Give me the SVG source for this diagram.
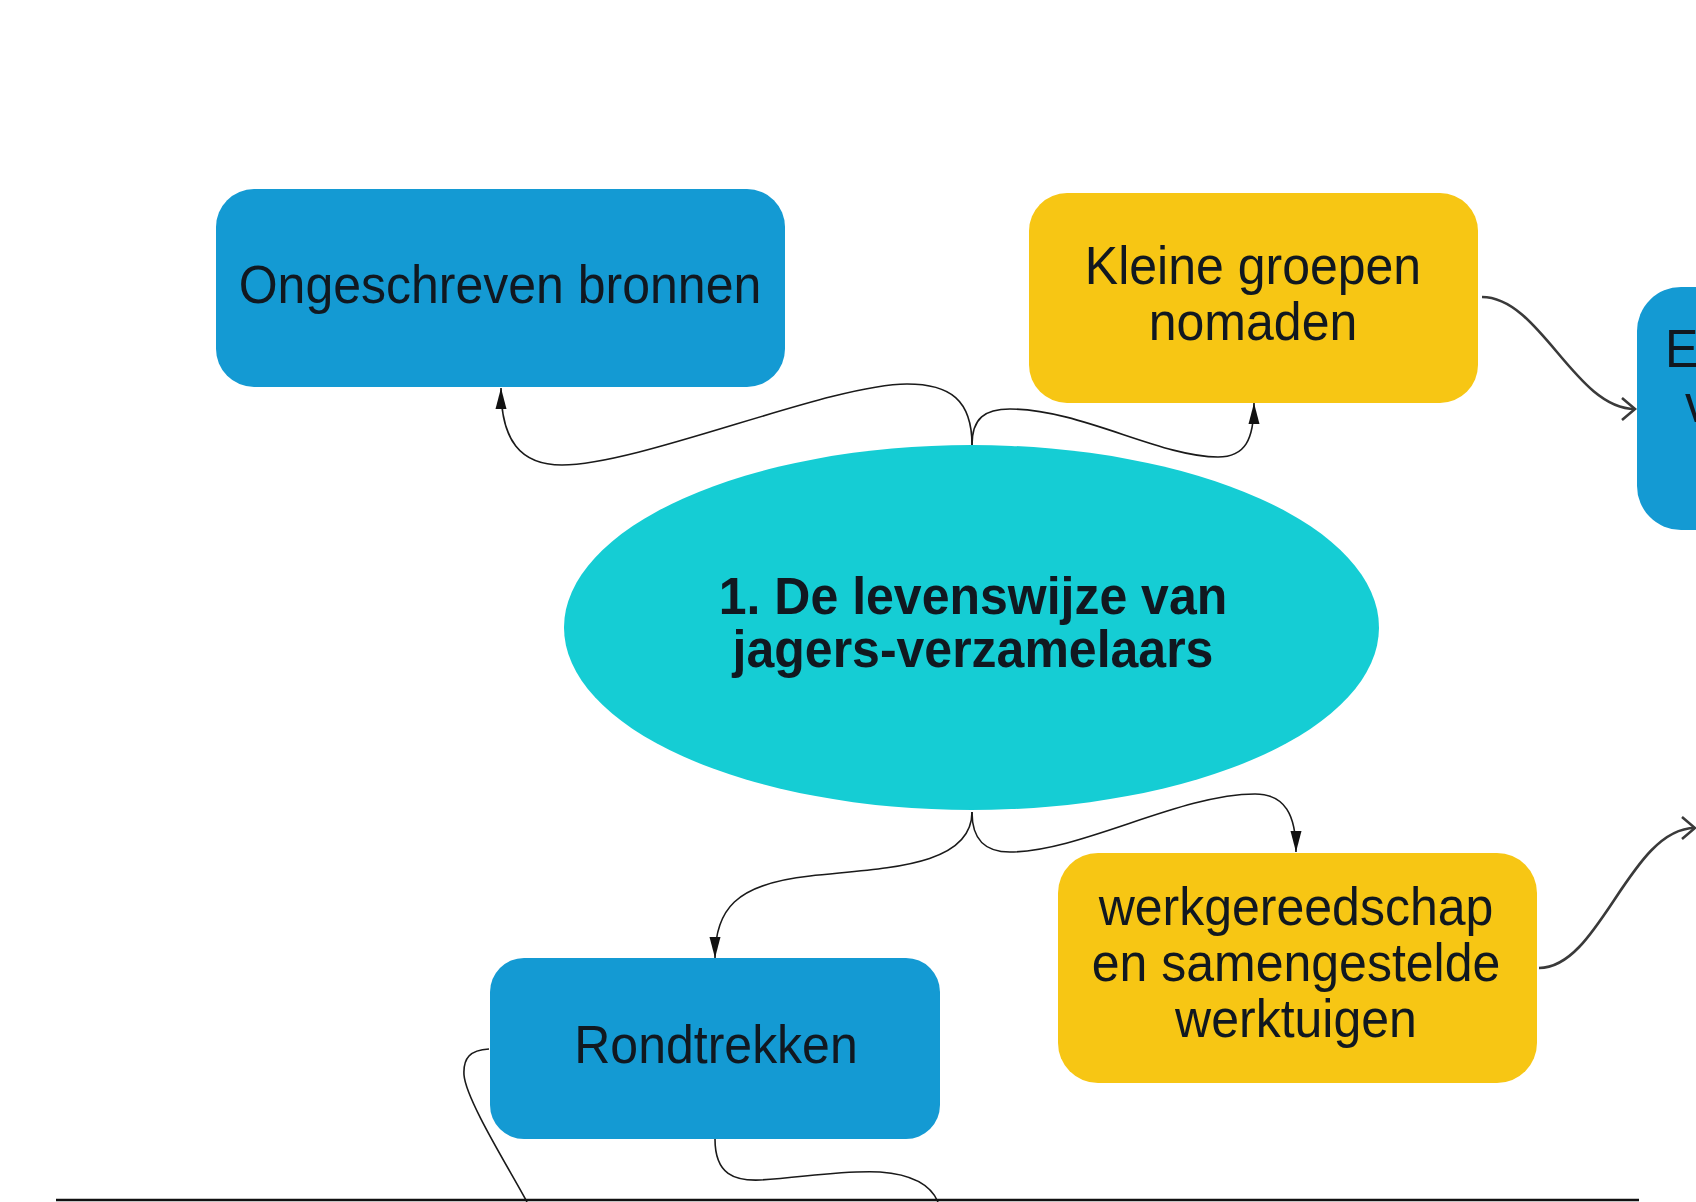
<svg xmlns="http://www.w3.org/2000/svg" width="1696" height="1202" viewBox="0 0 1696 1202">
<style>
.blue{fill:#149AD3}
.yellow{fill:#F7C614}
.cyan{fill:#15CDD4}
.t{font-family:"Liberation Sans",Arial,sans-serif;font-size:50px;fill:#111820;text-anchor:middle}
.b{font-weight:bold}
.c{fill:none;stroke:#1a1a1a;stroke-width:1.6}
.c2{fill:none;stroke:#3a3a3a;stroke-width:2.6}
</style>
<defs>
<marker id="ah" markerUnits="userSpaceOnUse" markerWidth="22" markerHeight="12" refX="21" refY="6" orient="auto">
<path d="M0,0.5 L21,6 L0,11.5 Z" fill="#111"/>
</marker>
<marker id="ch" markerUnits="userSpaceOnUse" markerWidth="18" markerHeight="26" refX="14" refY="12" orient="auto">
<path d="M1,1 L14,12 L1,23" fill="none" stroke="#3a3a3a" stroke-width="2.6"/>
</marker>
</defs>
<rect width="1696" height="1202" fill="#ffffff"/>
<g id="node-e">
<rect class="blue" x="1637" y="287" width="120" height="243" rx="44" ry="44"/>
<text class="t" transform="translate(1665,367) scale(1,1.06)" style="text-anchor:start">E</text>
<text class="t" transform="translate(1685,422) scale(1,1.06)" style="text-anchor:start">v</text>
</g>
<g id="node-ongeschreven">
<rect class="blue" x="216" y="189" width="569" height="198" rx="38" ry="38"/>
<text class="t" transform="translate(500,303) scale(1,1.06)">Ongeschreven bronnen</text>
</g>
<g id="node-kleine">
<rect class="yellow" x="1029" y="193" width="449" height="210" rx="38" ry="38"/>
<text class="t" transform="translate(1253,284) scale(1,1.06)">Kleine groepen</text>
<text class="t" transform="translate(1253,340) scale(1,1.06)">nomaden</text>
</g>
<g id="node-center">
<ellipse class="cyan" cx="971.5" cy="627.5" rx="407.5" ry="182.5"/>
<text class="t b" transform="translate(973,614) scale(1,1.04)">1. De levenswijze van</text>
<text class="t b" transform="translate(973,667) scale(1,1.04)">jagers-verzamelaars</text>
</g>
<g id="node-werk">
<rect class="yellow" x="1058" y="853" width="479" height="230" rx="40" ry="40"/>
<text class="t" transform="translate(1296,925) scale(1,1.06)">werkgereedschap</text>
<text class="t" transform="translate(1296,981) scale(1,1.06)">en samengestelde</text>
<text class="t" transform="translate(1296,1037) scale(1,1.06)">werktuigen</text>
</g>
<g id="node-rondtrekken">
<rect class="blue" x="490" y="958" width="450" height="181" rx="34" ry="34"/>
<text class="t" transform="translate(716,1063) scale(1,1.06)">Rondtrekken</text>
</g>
<g id="connectors">
<path class="c" marker-end="url(#ah)" d="M 972 445 C 972 400, 950 384, 907 384 C 830 384, 640 465, 562 465 C 520 465, 501 440, 501 388"/>
<path class="c" marker-end="url(#ah)" d="M 972 445 C 972 418, 985 409, 1010 409 C 1080 409, 1160 457, 1218 457 C 1245 457, 1254 440, 1254 403"/>
<path class="c" marker-end="url(#ah)" d="M 972 812 C 972 868, 880 868, 810 876 C 735 884, 715 910, 715 958"/>
<path class="c" marker-end="url(#ah)" d="M 972 812 C 972 840, 985 852, 1010 852 C 1080 852, 1180 794, 1255 794 C 1285 794, 1296 815, 1296 852"/>
<path class="c" d="M 715 1139 C 715 1175, 735 1181, 760 1180 C 800 1178, 840 1170, 880 1172 C 920 1175, 933 1190, 938 1202"/>
<path class="c" d="M 489 1049 C 470 1050, 463 1058, 464 1075 C 466 1100, 510 1170, 527 1202"/>
<path class="c2" marker-end="url(#ch)" d="M 1482 297 C 1540 297, 1575 409, 1635 409"/>
<path class="c2" marker-end="url(#ch)" d="M 1539 968 C 1600 968, 1630 828, 1695 828"/>
</g>
<line x1="56" y1="1200" x2="1639" y2="1200" stroke="#111" stroke-width="2.5"/>
</svg>
